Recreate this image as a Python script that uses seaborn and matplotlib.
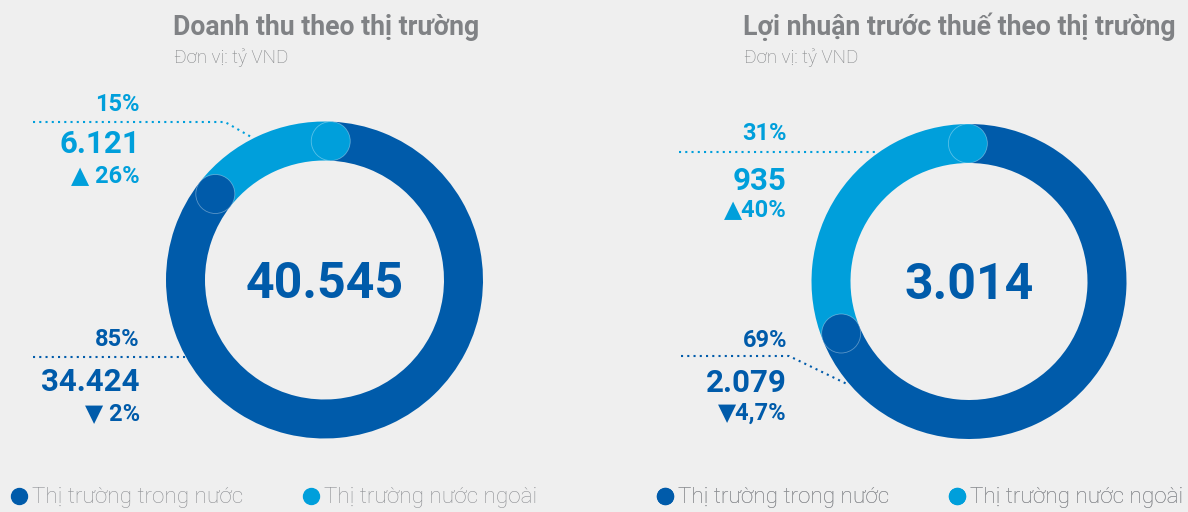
import matplotlib
matplotlib.use("Agg")
import matplotlib.pyplot as plt
import seaborn as sns
import numpy as np
from matplotlib.lines import Line2D
from matplotlib.patches import Circle

# ---------------- data ----------------
markets = ["Thị trường trong nước", "Thị trường nước ngoài"]
titles = ["Doanh thu theo thị trường", "Lợi nhuận trước thuế theo thị trường"]
unit_label = "Đơn vị: tỷ VND"

revenue = [34424, 6121]          # domestic, foreign
revenue_share = ["85%", "15%"]
revenue_growth = ["2%", "26%"]
revenue_up = [False, True]

profit = [2079, 935]
profit_share = ["69%", "31%"]
profit_growth = ["4,7%", "40%"]
profit_up = [False, True]

# ---------------- style ----------------
sns.set_theme(style="white")
BG = "#EFEFEF"
DARK = "#005BAA"
LIGHT = "#009FDB"
GRAY = "#808285"
LEG_GRAY = "#8E9094"
palette = sns.color_palette([DARK, LIGHT])
plt.rcParams["font.family"] = ["Roboto", "DejaVu Sans"]

W, H = 1188, 512
fig = plt.figure(figsize=(W / 100, H / 100), dpi=100, facecolor=BG)
ax = fig.add_axes([0, 0, 1, 1])
ax.set_facecolor(BG)


def Y(y):
    return H - y


def fmt(v):
    return f"{v:,}".replace(",", ".")


charts = [
    dict(values=revenue, share=revenue_share, growth=revenue_growth, up=revenue_up,
         cx=324.5, cy=280, R=158.5, width=39, mid=114.6,
         title_x=173, lab_x=140, growth_sep=" ",
         lab_y=dict(share_f=111, val_f=153, gr_f=182, share_d=346, val_d=391, gr_d=420),
         lines_f=[(33, 122), (225, 122), (253, 138)],
         lines_d=[(33, 357), (186, 357)],
         legend_x=12),
    dict(values=profit, share=profit_share, growth=profit_growth, up=profit_up,
         cx=969, cy=281.5, R=157.5, width=39, mid=146.3,
         title_x=743, lab_x=787, growth_sep="",
         lab_y=dict(share_f=140, val_f=190, gr_f=216, share_d=347, val_d=392, gr_d=420),
         lines_f=[(679, 152), (879, 152)],
         lines_d=[(681, 356), (789, 356), (847, 384)],
         legend_x=658),
]

for i, c in enumerate(charts):
    dom, foreign = c["values"]
    total = dom + foreign
    frac = foreign / total
    span = 360 * frac
    start = c["mid"] + span / 2
    end = start - span
    cx, cy, R, wd = c["cx"], Y(c["cy"]), c["R"], c["width"]

    ax.pie([foreign, dom], colors=[palette[1], palette[0]], startangle=start,
           counterclock=False, radius=R, center=(cx, cy), frame=True,
           wedgeprops=dict(width=wd, linewidth=0))

    rm = R - wd / 2
    # rounded caps: dark over light at the start of the foreign arc,
    # light over dark at its end
    for ang, col in [(start, palette[0]), (end, palette[1])]:
        a = np.deg2rad(ang)
        ax.add_patch(Circle((cx + rm * np.cos(a), cy + rm * np.sin(a)), wd / 2,
                            facecolor=col, edgecolor=(1, 1, 1, 0.35), linewidth=0.6,
                            zorder=3))

    # centre total
    ax.text(cx, cy - 4, fmt(total), ha="center", va="center", fontsize=36,
            fontweight="bold", color=DARK, zorder=4)

    # titles
    ax.text(c["title_x"], Y(35), titles[i], ha="left", va="baseline", fontsize=19.2,
            fontweight="bold", color=GRAY)
    ax.text(c["title_x"] + 1, Y(63), unit_label, ha="left", va="baseline", fontsize=13.5,
            fontweight="light", color=GRAY)

    ly = c["lab_y"]
    lx = c["lab_x"]
    # foreign labels
    ax.text(lx, Y(ly["share_f"]), c["share"][1], ha="right", va="baseline",
            fontsize=17, fontweight="bold", color=LIGHT)
    ax.text(lx, Y(ly["val_f"]), fmt(foreign), ha="right", va="baseline",
            fontsize=22.5, fontweight="bold", color=LIGHT)
    ax.text(lx, Y(ly["gr_f"]), ("▲" if c["up"][1] else "▼") + c["growth_sep"] + c["growth"][1],
            ha="right", va="baseline", fontsize=17, fontweight="bold", color=LIGHT)
    # domestic labels
    ax.text(lx, Y(ly["share_d"]), c["share"][0], ha="right", va="baseline",
            fontsize=17, fontweight="bold", color=DARK)
    ax.text(lx, Y(ly["val_d"]), fmt(dom), ha="right", va="baseline",
            fontsize=22.5, fontweight="bold", color=DARK)
    ax.text(lx, Y(ly["gr_d"]), ("▲" if c["up"][0] else "▼") + c["growth_sep"] + c["growth"][0],
            ha="right", va="baseline", fontsize=17, fontweight="bold", color=DARK)

    # dotted leader lines
    for pts, col in [(c["lines_f"], LIGHT), (c["lines_d"], DARK)]:
        xs = [p[0] for p in pts]
        ys = [Y(p[1]) for p in pts]
        ax.plot(xs, ys, color=col, lw=1.5, linestyle=(0, (1, 2)), zorder=2)

    # legend
    handles = [Line2D([], [], marker="o", ls="", color=palette[k], markersize=11.5)
               for k in range(2)]
    leg = ax.legend(handles, markets, loc="center left",
                    bbox_to_anchor=(c["legend_x"] / W, 1 - 498 / H),
                    ncol=2, frameon=False, handlelength=0.6,
                    handletextpad=0.3, columnspacing=2.7, borderpad=0,
                    borderaxespad=0, prop=dict(weight="light", size=16.2))
    for t in leg.get_texts():
        t.set_color(LEG_GRAY)
    ax.add_artist(leg)

ax.set_xlim(0, W)
ax.set_ylim(0, H)
ax.set_aspect("equal")
ax.axis("off")

fig.savefig("out.png", dpi=100, facecolor=BG)
